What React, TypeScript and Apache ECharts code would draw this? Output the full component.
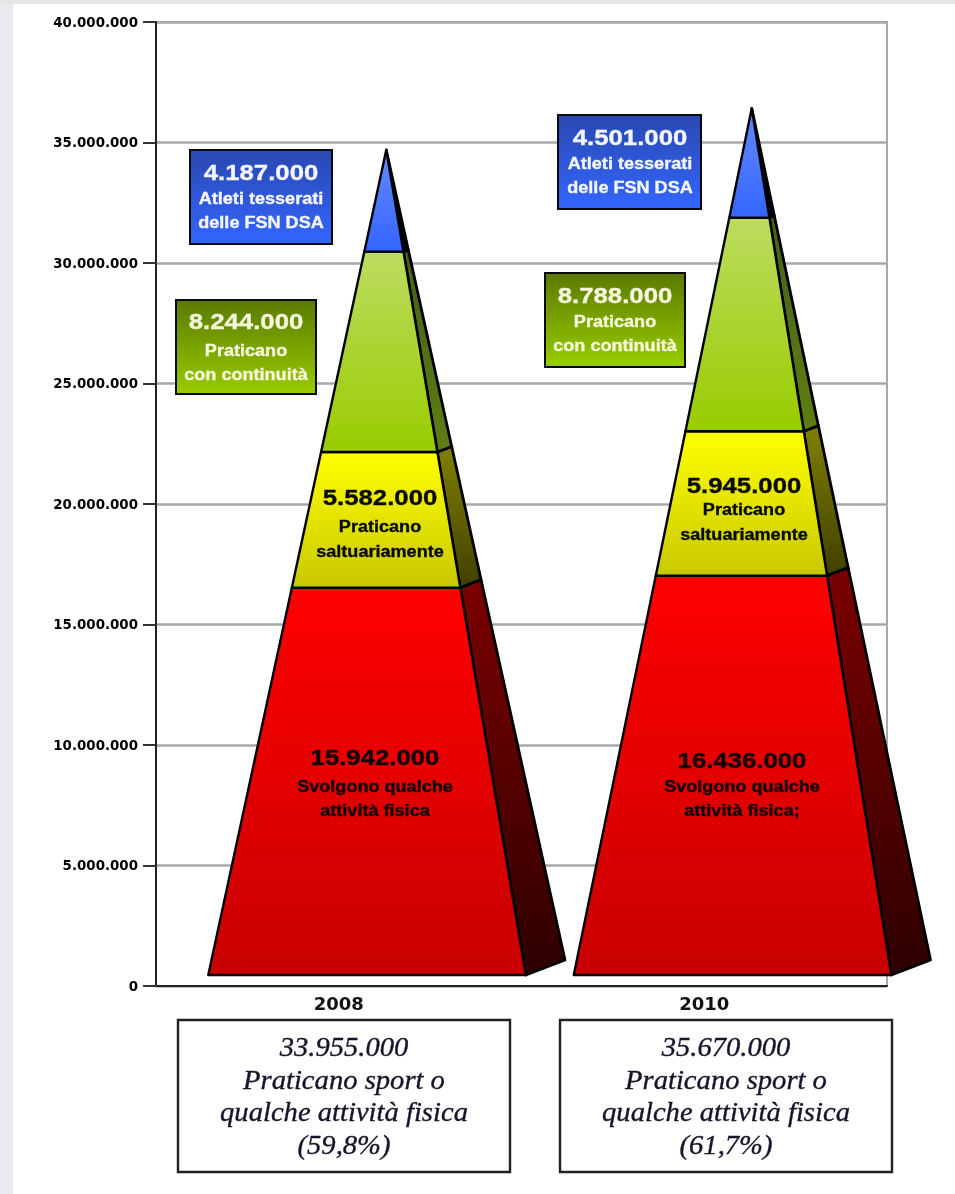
import React, { useEffect, useRef } from "react";
import * as echarts from "echarts";

const categories = ["2008", "2010"];
const someActivity = [15942000, 16436000];
const occasional = [5582000, 5945000];
const continuous = [8244000, 8788000];
const athletes = [4187000, 4501000];
const totals = [33955000, 35670000];
const shares = ["(59,8%)", "(61,7%)"];
const yMax = 40000000;
const yStep = 5000000;

// Pyramids stand a little above the axis and are drawn slightly taller than the raw values.
const BASE_VALUE = 456000;
const OUTER_BASE_VALUE = 1080000;
const DRAW_SCALE = 1.0082;
// Offsets from the category centre as a share of the band width
const APEX_OFF = 0.13;
const LEFT_OFF = -0.357;
const RIGHT_OFF = 0.512;
const OUTER_OFF = 0.619;

const dots = (v: number) => String(v).replace(/\B(?=(\d{3})+(?!\d))/g, ".");
const grad = (a: string, b: string) =>
  new echarts.graphic.LinearGradient(0, 0, 0, 1, [
    { offset: 0, color: a },
    { offset: 1, color: b },
  ]);

const layers = [
  { values: someActivity, front: ["#ff0000", "#c80000"], side: ["#7c0000", "#2e0000"] },
  { values: occasional, front: ["#ffff00", "#c8c800"], side: ["#808000", "#404000"] },
  { values: continuous, front: ["#bcdc60", "#99cc00"], side: ["#46601a", "#5f7d12"] },
  { values: athletes, front: ["#6688ff", "#3366ff"], side: ["#000018", "#000018"] },
];

const stackBelow = (layerIdx: number, cat: number) => {
  let s = 0;
  for (let k = 0; k < layerIdx; k++) s += layers[k].values[cat];
  return s;
};

const layerSeries = layers.map((layer, li) => ({
  type: "custom",
  coordinateSystem: "cartesian2d",
  silent: true,
  z: 5 + li,
  encode: { x: 0, y: 2 },
  data: categories.map((c, i) => [c, stackBelow(li, i), stackBelow(li, i) + layer.values[i], i]),
  renderItem: (_p: any, api: any) => {
    const cat = api.value(3) as number;
    const cx = api.coord([cat, 0])[0];
    const band = api.size([1, 0])[0];
    const yOf = (v: number) => api.coord([cat, v])[1];
    const level = (cum: number) => BASE_VALUE + cum * DRAW_SCALE;
    const apexV = level(totals[cat]);
    const apexY = yOf(apexV);
    const apexX = cx + APEX_OFF * band;
    const baseY = yOf(BASE_VALUE);
    const outerY = yOf(OUTER_BASE_VALUE);
    const leftX = cx + LEFT_OFF * band;
    const rightX = cx + RIGHT_OFF * band;
    const outerX = cx + OUTER_OFF * band;
    const pts = (cum: number) => {
      const t = (yOf(level(cum)) - apexY) / (baseY - apexY);
      return {
        y: yOf(level(cum)),
        l: apexX + (leftX - apexX) * t,
        r: apexX + (rightX - apexX) * t,
        ox: apexX + (outerX - apexX) * t,
        oy: apexY + (outerY - apexY) * t,
      };
    };
    const lo = pts(api.value(1) as number);
    const isTop = li === layers.length - 1;
    const hi = isTop
      ? { y: apexY, l: apexX, r: apexX, ox: apexX, oy: apexY }
      : pts(api.value(2) as number);
    return {
      type: "group",
      children: [
        {
          type: "polygon",
          shape: { points: [[hi.r, hi.y], [hi.ox, hi.oy], [lo.ox, lo.oy], [lo.r, lo.y]] },
          style: { fill: grad(layer.side[0], layer.side[1]), stroke: "#000", lineWidth: 2.8, lineJoin: "round" },
        },
        {
          type: "polygon",
          shape: { points: [[hi.l, hi.y], [hi.r, hi.y], [lo.r, lo.y], [lo.l, lo.y]] },
          style: { fill: grad(layer.front[0], layer.front[1]), stroke: "#000", lineWidth: 2.4, lineJoin: "round" },
        },
      ],
    };
  },
}));

const SANS = '"Liberation Sans", Arial, sans-serif';
const SERIF = '"Liberation Serif", "Times New Roman", serif';

const txt = (text: string, x: number, y: number, font: string, fill: string, scaleX = 1, weight = 0.35) => ({
  type: "text",
  x,
  y,
  scaleX,
  z: 30,
  silent: true,
  style: {
    text,
    fill,
    font,
    stroke: fill,
    lineWidth: weight,
    align: "center",
    textAlign: "center",
    verticalAlign: "middle",
    textVerticalAlign: "middle",
  },
});

const BIG = `bold 23px ${SANS}`;
const SMALL = `bold 16px ${SANS}`;
const callout = (
  lines: [string, string, string],
  cx: number,
  ys: [number, number, number],
  fill: string
) => [
  txt(lines[0], cx, ys[0], BIG, fill, 1.12),
  txt(lines[1], cx, ys[1], SMALL, fill, 1.13),
  txt(lines[2], cx, ys[2], SMALL, fill, 1.13),
];

const box = (x: number, y: number, w: number, h: number, a: string, b: string) => ({
  type: "rect",
  z: 20,
  silent: true,
  shape: { x, y, width: w, height: h },
  style: { fill: grad(a, b), stroke: "#0a0a0a", lineWidth: 2 },
});

const bottomBox = (i: number, x: number) => {
  const w = 332;
  const cx = x + w / 2;
  const font = `italic 27px ${SERIF}`;
  const ink = "#14142a";
  return [
    {
      type: "rect",
      z: 20,
      silent: true,
      shape: { x, y: 1020, width: w, height: 152 },
      style: { fill: "#fff", stroke: "#222", lineWidth: 2.4 },
    },
    txt(dots(totals[i]), cx, 1047, font, ink, 1.06),
    txt("Praticano sport o", cx, 1080, font, ink, 1.06),
    txt("qualche attività fisica", cx, 1112, font, ink, 1.06),
    txt(shares[i], cx, 1145, font, ink, 1.06),
  ];
};

const graphics: any[] = [
  { type: "rect", z: 1, silent: true, shape: { x: 0, y: 0, width: 13, height: 1194 }, style: { fill: "#e9e9ee" } },
  { type: "rect", z: 1, silent: true, shape: { x: 0, y: 0, width: 955, height: 4 }, style: { fill: "#e6e6e6" } },

  box(190, 150, 142, 94, "#2a48b0", "#3366ff"),
  ...callout([dots(athletes[0]), "Atleti tesserati", "delle FSN DSA"], 261, [172, 199, 223], "#f4f6ff"),
  box(176, 300, 140, 94, "#5a7a00", "#99cc00"),
  ...callout([dots(continuous[0]), "Praticano", "con continuità"], 246, [321, 351, 375], "#f6f8dc"),
  ...callout([dots(occasional[0]), "Praticano", "saltuariamente"], 380, [497, 527, 552], "#0a0a00"),
  ...callout([dots(someActivity[0]), "Svolgono qualche", "attività fisica"], 375, [757, 787, 811], "#100000"),

  box(558, 115, 143, 94, "#2a48b0", "#3366ff"),
  ...callout([dots(athletes[1]), "Atleti tesserati", "delle FSN DSA"], 630, [137, 164, 188], "#f4f6ff"),
  box(545, 273, 140, 94, "#5a7a00", "#99cc00"),
  ...callout([dots(continuous[1]), "Praticano", "con continuità"], 615, [295, 322, 346], "#f6f8dc"),
  ...callout([dots(occasional[1]), "Praticano", "saltuariamente"], 744, [485, 510, 535], "#0a0a00"),
  ...callout([dots(someActivity[1]), "Svolgono qualche", "attività fisica;"], 742, [760, 787, 811], "#100000"),

  ...bottomBox(0, 178),
  ...bottomBox(1, 560),
];

export default function App() {
  const ref = useRef<HTMLDivElement>(null);
  useEffect(() => {
    const chart = echarts.init(ref.current!, undefined, { renderer: "svg" });
    chart.setOption({
      animation: false,
      backgroundColor: "#ffffff",
      grid: {
        left: 156,
        right: 68,
        top: 22,
        bottom: 208,
        show: true,
        backgroundColor: "transparent",
        borderColor: "#a8a8a8",
        borderWidth: 2,
      },
      xAxis: {
        type: "category",
        data: categories,
        axisLine: { lineStyle: { color: "#222", width: 2 } },
        axisTick: { show: false },
        axisLabel: {
          margin: 8,
          color: "#111",
          fontFamily: '"DejaVu Sans", sans-serif',
          fontWeight: "bold",
          fontSize: 18,
        },
      },
      yAxis: {
        type: "value",
        min: 0,
        max: yMax,
        interval: yStep,
        axisLine: { show: true, lineStyle: { color: "#222", width: 2 } },
        axisTick: { show: true, length: 13, lineStyle: { color: "#333", width: 2 } },
        splitLine: { show: true, lineStyle: { color: "#a8a8a8", width: 2.5 } },
        axisLabel: {
          margin: 18,
          color: "#000",
          fontFamily: '"DejaVu Sans", sans-serif',
          fontWeight: "bold",
          fontSize: 13.4,
          formatter: (v: number) => dots(v),
        },
      },
      series: layerSeries,
      graphic: { elements: graphics },
    });
    return () => chart.dispose();
  }, []);
  return (
    <div
      ref={ref}
      style={{ position: "absolute", left: 0, top: 0, width: 955, height: 1194, filter: "blur(0.6px)" }}
    />
  );
}
